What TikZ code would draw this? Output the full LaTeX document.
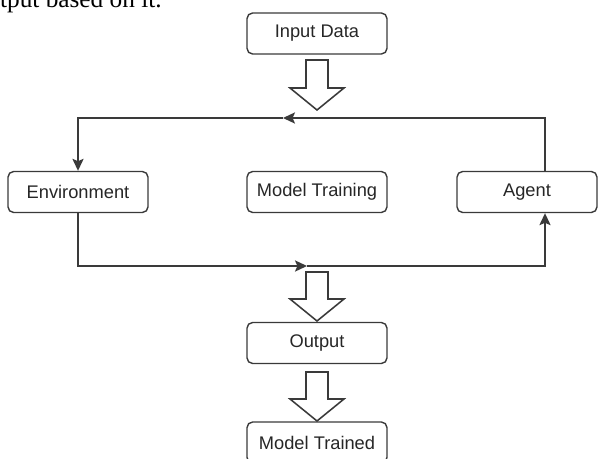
\documentclass[tikz,border=0pt]{standalone}
\usepackage{fontspec}
\setmainfont{Liberation Serif}
\setsansfont{Liberation Sans}
\usetikzlibrary{arrows.meta}
\definecolor{linegray}{HTML}{3A3A3A}

\begin{document}
\begin{tikzpicture}[
    box/.style={draw=linegray, line width=1pt, rounded corners=4pt, minimum width=3.5cm, minimum height=1.025cm, font=\sffamily\fontsize{13}{15}\selectfont, text=black!85},
    flow/.style={draw=linegray, line width=1.1pt},
    tip/.style={-{Stealth[length=3mm,width=2.8mm,inset=0.6mm]}}
]
    \useasboundingbox (0,0) rectangle (14.95,11.45);
    \clip (0,0) rectangle (14.95,11.45);

    % Cut-off text of the page above
    \node[anchor=base east, inner sep=0, font=\fontsize{18}{20}\selectfont] (pagetext) at (4.05,11.26) {output based on it.};

    % Boxes
    \node[box] (input) at (7.925,10.6125) {Input Data};
    \node[box] (env) at (1.95,6.65) {Environment};
    \node[box] (training) at (7.925,6.65) {Model Training};
    \node[box] (agent) at (13.175,6.65) {Agent};
    \node[box] (output) at (7.925,2.875) {Output};
    \node[box] (trained) at (7.925,0.3875) {Model Trained};

    % Loop between environment and agent
    \coordinate (topmid) at (7.075,8.5);
    \coordinate (botmid) at (7.675,4.8);
    \draw[flow, tip] ([xshift=0.45cm]agent.north) |- (topmid);
    \draw[flow, tip] (topmid) -| (env.north);
    \draw[flow, tip] (env.south) |- (botmid);
    \draw[flow, tip] (botmid) -| ([xshift=0.45cm]agent.south);

    % Block arrows
    \foreach \ytop/\ytip in {9.95/8.7, 4.65/3.425, 2.15/0.925} {
        \pgfmathsetmacro\ybase{\ytip+0.55}
        \draw[flow, fill=white] (7.65,\ytop) -- (8.2,\ytop) -- (8.2,\ybase) -- (8.6,\ybase)
            -- (7.925,\ytip) -- (7.25,\ybase) -- (7.65,\ybase) -- cycle;
    }
\end{tikzpicture}
\end{document}
